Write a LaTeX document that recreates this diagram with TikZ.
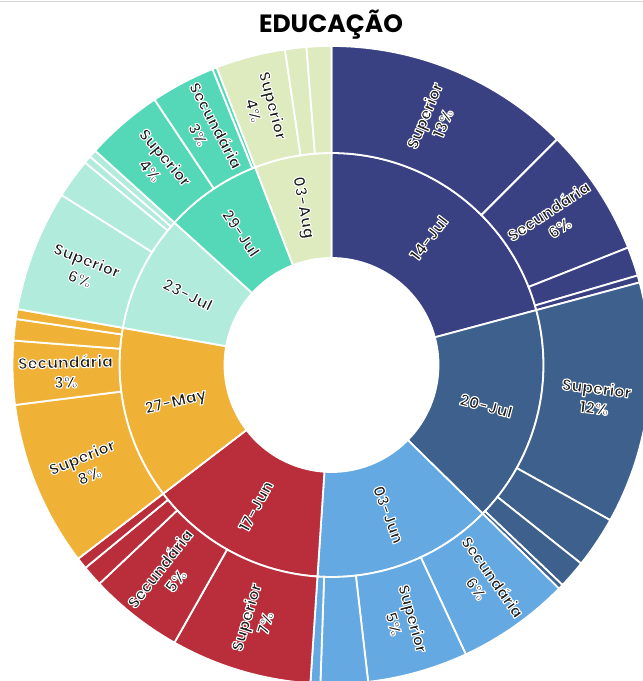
\documentclass[tikz,border=0pt]{standalone}
\usepackage{fontspec}
\setmainfont{Poppins}
\newcommand{\halotext}[1]{\special{pdf:literal direct 1 1 1 RG 1.1 w 1 j 2 Tr}#1\special{pdf:literal direct 0 Tr}}
\definecolor{cjula}{HTML}{3A4183}
\definecolor{cjulb}{HTML}{3D618C}
\definecolor{cjun}{HTML}{64A9E2}
\definecolor{cjunb}{HTML}{B92E3A}
\definecolor{cmay}{HTML}{EFB236}
\definecolor{cjulc}{HTML}{B0EBDC}
\definecolor{cjuld}{HTML}{55D8B8}
\definecolor{caug}{HTML}{DDEBBE}
\definecolor{labgray}{HTML}{1E1E1E}
\tikzset{ring/.style={draw=white,line width=1.8pt},
  lbl/.style={text=labgray,font=\bfseries\fontsize{16}{20}\selectfont,align=center,inner sep=0pt}}

\begin{document}
\begin{tikzpicture}[x=1pt,y=1pt]
                \useasboundingbox (0,0) rectangle (643,681);
                \clip (0,0) rectangle (643,681);
                \draw[gray!35] (0,680) -- (643,680);
                \node[font=\bfseries\fontsize{25}{30}\selectfont] (title) at (331,656) {EDUCAÇÃO};
                \begin{scope}[shift={(331.5,316)}]
                % dates
                \foreach \a/\b/\c in {90/15/cjula,15/-44.5/cjulb,-44.5/-93.8/cjun,-93.8/-142.6/cjunb,
                    -142.6/-190.1/cmay,-190.1/-222.2/cjulc,-222.2/-248.9/cjuld,-248.9/-270/caug}
                    \filldraw[ring,fill=\c] (\a:107pt) arc (\a:\b:107pt) -- (\b:212pt) arc (\b:\a:212pt) -- cycle;
                % levels
                \foreach \a/\b/\c in {90/45/cjula,45/21.6/cjula,21.6/16.3/cjula,16.3/15/cjula,
                    15/-29.1/cjulb,-29.1/-38.5/cjulb,-38.5/-43.6/cjulb,-43.6/-44.5/cjulb,
                    -44.5/-65.1/cjun,-65.1/-83.4/cjun,-83.4/-92/cjun,-92/-93.8/cjun,
                    -93.8/-119.5/cjunb,-119.5/-136.7/cjunb,-136.7/-140.5/cjunb,-140.5/-142.6/cjunb,
                    -142.6/-172.8/cmay,-172.8/-184.4/cmay,-184.4/-188.3/cmay,-188.3/-190.1/cmay,
                    -190.1/-212.2/cjulc,-212.2/-219.4/cjulc,-219.4/-220.8/cjulc,-220.8/-222.2/cjulc,
                    -222.2/-236.3/cjuld,-236.3/-248.1/cjuld,-248.1/-248.9/cjuld,
                    -248.9/-261.6/caug,-261.6/-265.5/caug,-265.5/-270/caug}
                    \filldraw[ring,fill=\c] (\a:212pt) arc (\a:\b:212pt) -- (\b:319pt) arc (\b:\a:319pt) -- cycle;
                \foreach \a/\b/\s [count=\i] in {90/15/14-Jul,15/-44.5/20-Jul,-44.5/-93.8/03-Jun,-93.8/-142.6/17-Jun,
                    -142.6/-190.1/27-May,-190.1/-222.2/23-Jul,-222.2/-248.9/29-Jul,-248.9/-270/03-Aug}{
                    \pgfmathsetmacro\m{(\a+\b)/2}
                    \pgfmathsetmacro\t{ifthenelse(cos(\m)<0,\m+180,\m)}
                    \node[lbl,rotate=\t] (date\i) at (\m:160pt) {\halotext{\s}};
                }
                \foreach \a/\b/\s/\n [count=\i] in {90/45/Superior/13\%,45/21.6/Secundária/6\%,15/-29.1/Superior/12\%,
                    -44.5/-65.1/Secundária/6\%,-65.1/-83.4/Superior/5\%,-93.8/-119.5/Superior/7\%,
                    -119.5/-136.7/Secundária/5\%,-142.6/-172.8/Superior/8\%,-172.8/-184.4/Secundária/3\%,
                    -190.1/-212.2/Superior/6\%,-222.2/-236.3/Superior/4\%,-236.3/-248.1/Secundária/3\%,
                    -248.9/-261.6/Superior/4\%}{
                    \pgfmathsetmacro\m{(\a+\b)/2}
                    \pgfmathsetmacro\t{ifthenelse(cos(\m)<0,\m+180,\m)}
                    \node[lbl,rotate=\t] (level\i) at (\m:266pt) {\halotext{\s}\\\halotext{\n}};
                }
                \end{scope}
            \end{tikzpicture}
\end{document}
